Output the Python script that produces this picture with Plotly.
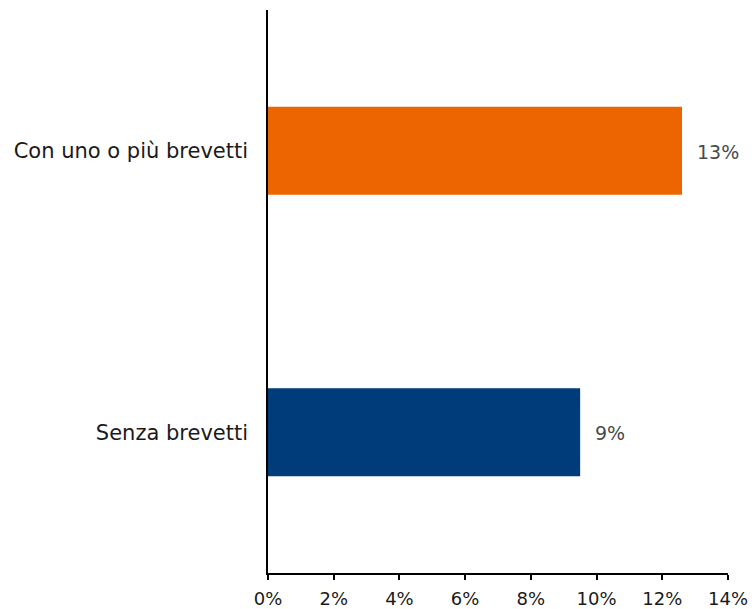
import plotly.graph_objects as go

categories = ["Senza brevetti", "Con uno o più brevetti"]
values = [9.5, 12.6]
labels = ["9%", "13%"]
colors = ["#003B7A", "#EC6500"]
tick_vals = [0, 2, 4, 6, 8, 10, 12, 14]
tick_text = ["0%", "2%", "4%", "6%", "8%", "10%", "12%", "14%"]

FONT = "DejaVu Sans, sans-serif"

fig = go.Figure()
fig.add_trace(go.Bar(
    y=categories, x=values, orientation="h",
    marker=dict(color=colors, line=dict(width=0)),
    width=0.313,
    hoverinfo="skip",
))
for c, v, t in zip(categories, values, labels):
    fig.add_annotation(x=v, y=c, text=t, showarrow=False, xanchor="left",
                       xshift=13, yshift=-1,
                       font=dict(family=FONT, size=19, color="#4a4a4a"))

fig.update_layout(
    width=752, height=609,
    margin=dict(l=268, r=24, t=10, b=36),
    paper_bgcolor="white", plot_bgcolor="white",
    showlegend=False,
    font=dict(family=FONT, size=18, color="#000000"),
    xaxis=dict(range=[0, 14], tickvals=tick_vals, ticktext=tick_text,
               automargin=False,
               showgrid=False, zeroline=False, showline=True,
               linecolor="#000000", linewidth=1.5,
               ticks="outside", ticklen=5, tickcolor="#000000", tickwidth=1.5,
               ticklabelstandoff=4,
               tickfont=dict(family=FONT, size=18, color="#1a1a1a")),
    yaxis=dict(range=[-0.5, 1.5], showgrid=False, zeroline=False,
               automargin=False,
               showline=True, linecolor="#000000", linewidth=1.5,
               ticks="", ticklabelstandoff=14,
               tickfont=dict(family=FONT, size=21, color="#1a1a1a")),
)
fig.write_html("out.html")
